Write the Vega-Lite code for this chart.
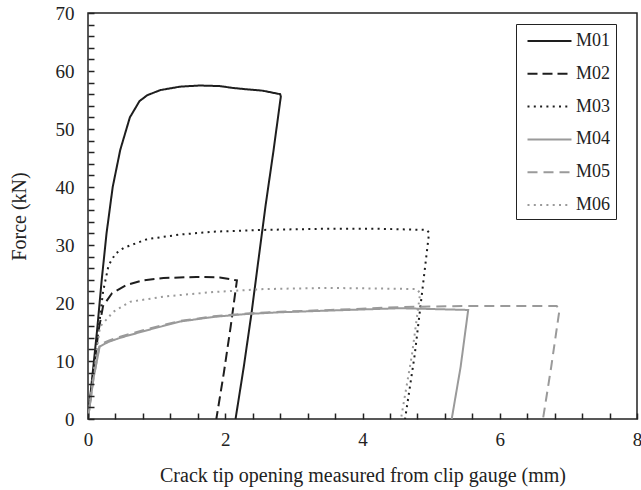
{
  "$schema": "https://vega.github.io/schema/vega-lite/v6.json",
  "width": 549,
  "height": 406,
  "autosize": "none",
  "padding": {"left": 88, "top": 13, "right": 4, "bottom": 71},
  "config": {
    "font": "Liberation Serif",
    "view": {"stroke": "#222", "strokeWidth": 1.5},
    "legend": {
      "orient": "none",
      "legendX": 428,
      "legendY": 11,
      "strokeColor": "#222",
      "fillColor": "white",
      "padding": 5,
      "symbolType": "M-2,0H2",
      "symbolSize": 484,
      "symbolOffset": 16.5,
      "symbolStrokeWidth": 2,
      "labelFont": "Liberation Serif",
      "labelFontSize": 18,
      "labelColor": "#222",
      "labelOffset": 14.5,
      "labelExpr": "datum.label + '  '",
      "rowPadding": 11.8
    }
  },
  "data": {
    "values": [
      {"s": "M01", "i": 0, "x": 0, "y": 0},
      {"s": "M01", "i": 1, "x": 0.06, "y": 7},
      {"s": "M01", "i": 2, "x": 0.13, "y": 15},
      {"s": "M01", "i": 3, "x": 0.2, "y": 24},
      {"s": "M01", "i": 4, "x": 0.27, "y": 32},
      {"s": "M01", "i": 5, "x": 0.36, "y": 40},
      {"s": "M01", "i": 6, "x": 0.47, "y": 46.4},
      {"s": "M01", "i": 7, "x": 0.61, "y": 52},
      {"s": "M01", "i": 8, "x": 0.75, "y": 54.8},
      {"s": "M01", "i": 9, "x": 0.86, "y": 55.8},
      {"s": "M01", "i": 10, "x": 1.05, "y": 56.7},
      {"s": "M01", "i": 11, "x": 1.34, "y": 57.3},
      {"s": "M01", "i": 12, "x": 1.63, "y": 57.5},
      {"s": "M01", "i": 13, "x": 1.92, "y": 57.4},
      {"s": "M01", "i": 14, "x": 2.1, "y": 57.1},
      {"s": "M01", "i": 15, "x": 2.26, "y": 56.9},
      {"s": "M01", "i": 16, "x": 2.55, "y": 56.6},
      {"s": "M01", "i": 17, "x": 2.8, "y": 56},
      {"s": "M01", "i": 18, "x": 2.81, "y": 55.6},
      {"s": "M01", "i": 19, "x": 2.7, "y": 46},
      {"s": "M01", "i": 20, "x": 2.59, "y": 37},
      {"s": "M01", "i": 21, "x": 2.49, "y": 28},
      {"s": "M01", "i": 22, "x": 2.38, "y": 18},
      {"s": "M01", "i": 23, "x": 2.27, "y": 9},
      {"s": "M01", "i": 24, "x": 2.15, "y": 0},

      {"s": "M02", "i": 0, "x": 0, "y": 0},
      {"s": "M02", "i": 1, "x": 0.08, "y": 8},
      {"s": "M02", "i": 2, "x": 0.15, "y": 15},
      {"s": "M02", "i": 3, "x": 0.22, "y": 19.5},
      {"s": "M02", "i": 4, "x": 0.35, "y": 21.7},
      {"s": "M02", "i": 5, "x": 0.56, "y": 23.1},
      {"s": "M02", "i": 6, "x": 0.8, "y": 23.9},
      {"s": "M02", "i": 7, "x": 1.1, "y": 24.3},
      {"s": "M02", "i": 8, "x": 1.58, "y": 24.5},
      {"s": "M02", "i": 9, "x": 1.92, "y": 24.4},
      {"s": "M02", "i": 10, "x": 2.17, "y": 23.9},
      {"s": "M02", "i": 11, "x": 2.08, "y": 16},
      {"s": "M02", "i": 12, "x": 1.98, "y": 8},
      {"s": "M02", "i": 13, "x": 1.87, "y": 0},

      {"s": "M03", "i": 0, "x": 0, "y": 0},
      {"s": "M03", "i": 1, "x": 0.1, "y": 10},
      {"s": "M03", "i": 2, "x": 0.17, "y": 17},
      {"s": "M03", "i": 3, "x": 0.22, "y": 22},
      {"s": "M03", "i": 4, "x": 0.3, "y": 26.5},
      {"s": "M03", "i": 5, "x": 0.4, "y": 28.5},
      {"s": "M03", "i": 6, "x": 0.52, "y": 29.5},
      {"s": "M03", "i": 7, "x": 0.86, "y": 31},
      {"s": "M03", "i": 8, "x": 1.34, "y": 31.8},
      {"s": "M03", "i": 9, "x": 1.83, "y": 32.3},
      {"s": "M03", "i": 10, "x": 2.55, "y": 32.6},
      {"s": "M03", "i": 11, "x": 3.43, "y": 32.8},
      {"s": "M03", "i": 12, "x": 4.2, "y": 32.8},
      {"s": "M03", "i": 13, "x": 4.94, "y": 32.6},
      {"s": "M03", "i": 14, "x": 4.97, "y": 32.1},
      {"s": "M03", "i": 15, "x": 4.87, "y": 22},
      {"s": "M03", "i": 16, "x": 4.76, "y": 11},
      {"s": "M03", "i": 17, "x": 4.62, "y": 0},

      {"s": "M04", "i": 0, "x": 0, "y": 0},
      {"s": "M04", "i": 1, "x": 0.08, "y": 7},
      {"s": "M04", "i": 2, "x": 0.17, "y": 12.5},
      {"s": "M04", "i": 3, "x": 0.3, "y": 13.3},
      {"s": "M04", "i": 4, "x": 0.47, "y": 14},
      {"s": "M04", "i": 5, "x": 0.86, "y": 15.3},
      {"s": "M04", "i": 6, "x": 1.34, "y": 16.8},
      {"s": "M04", "i": 7, "x": 1.83, "y": 17.6},
      {"s": "M04", "i": 8, "x": 2.31, "y": 18.1},
      {"s": "M04", "i": 9, "x": 2.8, "y": 18.4},
      {"s": "M04", "i": 10, "x": 3.53, "y": 18.7},
      {"s": "M04", "i": 11, "x": 4.55, "y": 19.1},
      {"s": "M04", "i": 12, "x": 5.54, "y": 18.8},
      {"s": "M04", "i": 13, "x": 5.43, "y": 9},
      {"s": "M04", "i": 14, "x": 5.3, "y": 0},

      {"s": "M05", "i": 0, "x": 0, "y": 0},
      {"s": "M05", "i": 1, "x": 0.08, "y": 7},
      {"s": "M05", "i": 2, "x": 0.17, "y": 12.8},
      {"s": "M05", "i": 3, "x": 0.3, "y": 13.5},
      {"s": "M05", "i": 4, "x": 0.47, "y": 14.2},
      {"s": "M05", "i": 5, "x": 0.86, "y": 15.5},
      {"s": "M05", "i": 6, "x": 1.34, "y": 16.9},
      {"s": "M05", "i": 7, "x": 1.83, "y": 17.7},
      {"s": "M05", "i": 8, "x": 2.31, "y": 18.2},
      {"s": "M05", "i": 9, "x": 2.8, "y": 18.5},
      {"s": "M05", "i": 10, "x": 3.53, "y": 18.8},
      {"s": "M05", "i": 11, "x": 4.55, "y": 19.3},
      {"s": "M05", "i": 12, "x": 5.5, "y": 19.5},
      {"s": "M05", "i": 13, "x": 6.83, "y": 19.5},
      {"s": "M05", "i": 14, "x": 6.87, "y": 18.8},
      {"s": "M05", "i": 15, "x": 6.75, "y": 9},
      {"s": "M05", "i": 16, "x": 6.63, "y": 0},

      {"s": "M06", "i": 0, "x": 0, "y": 0},
      {"s": "M06", "i": 1, "x": 0.08, "y": 8},
      {"s": "M06", "i": 2, "x": 0.175, "y": 15.9},
      {"s": "M06", "i": 3, "x": 0.37, "y": 18.5},
      {"s": "M06", "i": 4, "x": 0.61, "y": 20.2},
      {"s": "M06", "i": 5, "x": 1.1, "y": 21.1},
      {"s": "M06", "i": 6, "x": 1.83, "y": 21.9},
      {"s": "M06", "i": 7, "x": 2.56, "y": 22.4},
      {"s": "M06", "i": 8, "x": 3.48, "y": 22.6},
      {"s": "M06", "i": 9, "x": 4.2, "y": 22.5},
      {"s": "M06", "i": 10, "x": 4.79, "y": 22.4},
      {"s": "M06", "i": 11, "x": 4.84, "y": 21.7},
      {"s": "M06", "i": 12, "x": 4.72, "y": 11},
      {"s": "M06", "i": 13, "x": 4.56, "y": 0}
    ]
  },
  "layer": [
    {
      "mark": {"type": "line", "strokeWidth": 2, "clip": true},
      "encoding": {
        "x": {
          "field": "x",
          "type": "quantitative",
          "scale": {"domain": [0, 8], "nice": false},
          "axis": {
            "title": "Crack tip opening measured from clip gauge (mm)",
            "values": [0, 2, 4, 6, 8],
            "format": "d",
            "ticks": false,
            "grid": false,
            "domain": false,
            "labelFont": "Liberation Serif",
            "labelFontSize": 19,
            "labelColor": "#222",
            "labelPadding": 11,
            "labelFlush": false,
            "labelOverlap": false,
            "titleFont": "Liberation Serif",
            "titleFontSize": 20,
            "titleFontWeight": "normal",
            "titleColor": "#222",
            "titlePadding": 16
          }
        },
        "y": {
          "field": "y",
          "type": "quantitative",
          "scale": {"domain": [0, 70], "nice": false},
          "axis": {
            "title": "Force (kN)",
            "values": [0, 10, 20, 30, 40, 50, 60, 70],
            "format": "d",
            "ticks": false,
            "grid": false,
            "domain": false,
            "labelFont": "Liberation Serif",
            "labelFontSize": 19,
            "labelColor": "#222",
            "labelPadding": 14,
            "labelFlush": false,
            "labelOverlap": false,
            "titleFont": "Liberation Serif",
            "titleFontSize": 20,
            "titleFontWeight": "normal",
            "titleColor": "#222",
            "titlePadding": 26
          }
        },
        "color": {
          "field": "s",
          "type": "nominal",
          "title": null,
          "scale": {
            "domain": ["M01", "M02", "M03", "M04", "M05", "M06"],
            "range": ["#1e1e1e", "#1e1e1e", "#1e1e1e", "#9a9a9a", "#9a9a9a", "#9a9a9a"]
          }
        },
        "strokeDash": {
          "field": "s",
          "type": "nominal",
          "title": null,
          "scale": {
            "domain": ["M01", "M02", "M03", "M04", "M05", "M06"],
            "range": [[1, 0], [10, 5], [2, 4.3], [1, 0], [10, 6], [2, 4.3]]
          }
        },
        "order": {"field": "i", "type": "quantitative"}
      }
    },
    {
      "mark": {"type": "line", "opacity": 0, "clip": true},
      "encoding": {
        "x": {
          "field": "x",
          "type": "quantitative",
          "scale": {"domain": [0, 8], "nice": false},
          "axis": {
            "orient": "bottom",
            "title": null,
            "labels": false,
            "grid": false,
            "domain": false,
            "values": [0, 0.4, 0.8, 1.2, 1.6, 2, 2.4, 2.8, 3.2, 3.6, 4, 4.4, 4.8, 5.2, 5.6, 6, 6.4, 6.8, 7.2, 7.6, 8],
            "tickSize": 6,
            "tickWidth": 1.5,
            "tickColor": "#222",
            "offset": -6,
            "zindex": 2
          }
        },
        "y": {
          "field": "y",
          "type": "quantitative",
          "scale": {"domain": [0, 70], "nice": false},
          "axis": {
            "orient": "left",
            "title": null,
            "labels": false,
            "grid": false,
            "domain": false,
            "values": [0, 2, 4, 6, 8, 10, 12, 14, 16, 18, 20, 22, 24, 26, 28, 30, 32, 34, 36, 38, 40, 42, 44, 46, 48, 50, 52, 54, 56, 58, 60, 62, 64, 66, 68, 70],
            "tickSize": 6,
            "tickWidth": 1.5,
            "tickColor": "#222",
            "offset": -6,
            "zindex": 2
          }
        },
        "detail": {"field": "s", "type": "nominal"},
        "order": {"field": "i", "type": "quantitative"}
      }
    }
  ],
  "resolve": {"axis": {"x": "independent", "y": "independent"}}
}
